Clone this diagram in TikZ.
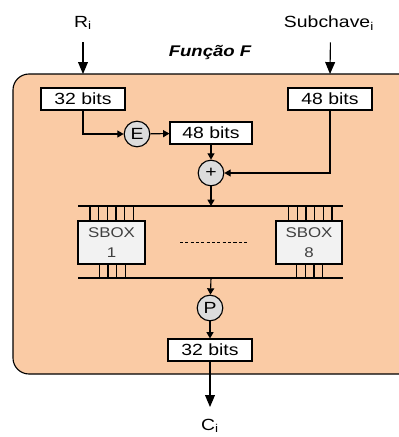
\documentclass[tikz,border=0pt]{standalone}
\usepackage{fontspec}
\setmainfont{Liberation Sans}[FakeStretch=1.2]
\usepackage{tikz}
\usetikzlibrary{arrows.meta}

\definecolor{fpeach}{HTML}{FACBA5}
\definecolor{opgray}{HTML}{DCDCDC}
\definecolor{sboxgray}{HTML}{F2F2F2}
\definecolor{sboxtext}{HTML}{404040}

\begin{document}
\begin{tikzpicture}[x=0.25mm, y=-0.25mm, line width=0.8pt,
    bits/.style={draw, fill=white, minimum width=21mm, minimum height=5.5mm, inner sep=0pt, font=\fontsize{11.5}{13}\selectfont},
    op/.style={draw, circle, fill=opgray, minimum size=6.4mm, inner sep=0pt, font=\fontsize{11.5}{13}\selectfont},
    sbox/.style={draw, fill=sboxgray, minimum width=16.75mm, minimum height=10.75mm, inner sep=0pt, align=center, text=sboxtext, font=\fontsize{10}{14}\selectfont},
    arr/.style={-{Triangle[length=4.5pt,width=5pt]}},
    bigarr/.style={-{Triangle[length=8.5pt,width=7pt]}}]
    \useasboundingbox (0,0) rectangle (399,437);
    % function block, cut at the right edge
    \begin{scope}
      \clip (0,0) rectangle (399,437);
      \draw[fill=fpeach, rounded corners=4mm] (13,74) rectangle (420,374);
    \end{scope}
    \node[font=\fontsize{11}{13}\selectfont\bfseries\itshape] (title) at (210,53) {Função F};

    % inputs
    \node[font=\fontsize{11.5}{13}\selectfont] (ri) at (83,23) {R\textsubscript{i}};
    \node[font=\fontsize{11.5}{13}\selectfont] (key) at (329,23) {Subchave\textsubscript{i}};
    \coordinate (ritop) at (83,74);
    \coordinate (keytop) at (330,74);
    \draw[bigarr] ([yshift=-5pt]ri.south) -- (ritop);
    \draw[bigarr] ([xshift=1pt,yshift=-5pt]key.south) -- (keytop);

    \node[bits] (in32) at (83,99) {32 bits};
    \node[bits] (key48) at (330,99) {48 bits};
    \node[op] (E) at (137,134) {E};
    \node[bits, minimum width=20.5mm] (exp48) at (211,133) {48 bits};
    \node[op] (xor) at (211,173) {+};
    \draw[arr] (in32) |- (E);
    \draw[arr] (E) -- (exp48);
    \draw[arr] (exp48) -- (xor);
    \draw[arr] (key48) |- (xor);

    % s-boxes
    \coordinate (bustop) at (211,206);
    \coordinate (busbot) at (211,278);
    \draw (78,206) -- (343,206);
    \draw (78,278) -- (343,278);
    \draw[arr] (xor) -- (bustop);
    \foreach \k in {0,...,5} {
      \draw (90+8.67*\k,206) -- (90+8.67*\k,221);
      \draw (288.7+8.67*\k,206) -- (288.7+8.67*\k,221);
    }
    \foreach \k in {0,...,3} {
      \draw (99.3+8.67*\k,264) -- (99.3+8.67*\k,278);
      \draw (296.7+8.67*\k,264) -- (296.7+8.67*\k,278);
    }
    \node[sbox] (sbox1) at (111.5,242.5) {SBOX\\1};
    \node[sbox, minimum width=16.5mm] (sbox8) at (309,242.5) {SBOX\\8};
    \draw[line width=0.6pt, dash pattern=on 2.2pt off 1.6pt] (180,242) -- (247,242);

    % output
    \node[op] (P) at (210,308) {P};
    \node[bits] (out32) at (210,350) {32 bits};
    \node[font=\fontsize{11.5}{13}\selectfont] (ci) at (210,426) {C\textsubscript{i}};
    \coordinate (cout) at (210,407);
    \draw[arr] (busbot) -- (P);
    \draw[arr] (P) -- (out32);
    \draw[bigarr] (out32) -- (cout);
\end{tikzpicture}
\end{document}
